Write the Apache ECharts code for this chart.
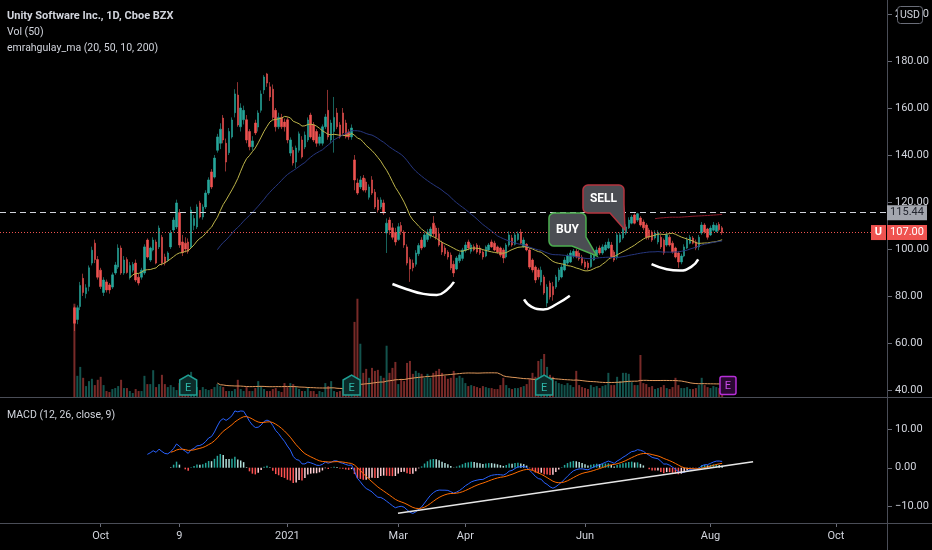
<!DOCTYPE html>
<html><head><meta charset="utf-8">
<script src="https://cdn.jsdelivr.net/npm/echarts@6/dist/echarts.min.js"></script>
<style>html,body{margin:0;padding:0;background:#000;}#c{width:932px;height:550px;}</style>
</head><body><div id="c"></div>
<script>
// ---- DATA ----
// Daily candles from 2020-09-18 to 2021-08-06: [open, close, low, high]
const ohlc = [
[75,68.4,65.1,75.5],[70,75,68,76],[75.5,84.5,74,86],[87.5,81.5,80,89.5],[81,83.5,79,85],[84,92,82,93],[94,99.5,93,101],[102.5,95.5,94,104],[95.5,88,87,97],[91,84,83,92],
[81.5,86.8,80,88],[86,82.6,81.5,87],[84.7,82.6,81,85.5],[83.8,89,83,90],[89.8,93.2,89,94.5],[92.3,100.4,91.5,102],[100.4,89.8,89,101.5],[89.8,95.3,89,97],[95.5,90,89.5,96.5],[88,93,87,94.5],
[91,93.5,90,94.5],[94,86.8,86,95.5],[88,85.5,84.5,89.5],[88,91,87,92],[89.8,100.9,89,102],[103.8,96.6,96,104.5],[95.3,100.4,94.5,101],[99.6,103.8,99,105],[103,94,93.5,104],[100.9,108.9,100,110],
[105,94,93,106],[96.6,94,93,98],[95.3,98.3,94.5,99],[100.9,106.8,100,108],[108.1,112.3,107,113.5],[109.4,119.6,108.5,121],[115.5,101.7,100.5,117],[103,98.5,97,106],[102.5,100,98.5,105],[103,99,98,104.5],
[100.9,116.6,100,118],[110,113,108,114.5],[109.4,117.9,108.5,119],[119.6,113.6,113,120.5],[113.6,117.9,112.5,119],[117.9,123.8,117,125],[123.8,129.4,123,130.5],[132.8,126.4,125.5,134],[130.6,138.7,130,140],[142,147.7,141,149],
[145,151,142.5,153.5],[155.7,146.4,145,157],[145,137,133,147],[141,150,140,151.5],[147.7,154.9,147,156],[158,166,156,168],[165.5,152.8,152,171],[152,160,150,162],[155,159,153,161],[155,146.4,145,157],
[150,143.5,142,151],[143.5,146,142,148],[153.6,149.4,148.5,155],[151.9,157.9,150,159],[159,166,158,167.5],[167.7,173.2,166,174],[174.5,170.6,169,174.94],[169,164.7,163,171],[168,156,155,170],[159,152,150,160],
[152,156,151,158],[156,152,151,157.5],[154,152,150,155.5],[155,146.4,145,156],[140.8,146.4,139.5,147.5],[142,136.6,135.5,143.5],[137,143,134.5,144],[142,149,141,150],[146.4,139.2,138.5,148],[143.4,148.5,142.5,150],
[146.4,154.9,145.5,156],[157,147.7,147,158],[152.8,146.4,145.5,154],[150,145,143.5,151],[145,147.7,144,149],[145,152,144,153],[152,156.2,151,157.5],[159,147.7,146.5,167.7],[146.4,153.6,145,155],[150,156,141,164.7],
[157.9,152,151,160],[152.8,147.7,147,154],[157.9,149.4,148.5,160],[153.6,147.7,147,155],[149.8,147.7,146.5,151],[147.7,151.5,146.5,153],[137.9,129.4,125,140],[128.1,123.8,123,130],[126.4,129.4,125.5,131],[130.2,125.1,124.5,131.5],
[128.5,125.1,124,130],[122,126.4,121,127.5],[129.4,123.8,123,131],[124.2,117.9,117,125.5],[120.9,116.6,115.5,122],[117.9,120.9,117,122],[119.6,115.3,114.5,121],[106.8,111,98.3,113],[112.3,108.1,106,113.5],[109,105,104,111],
[107,103,101.5,109],[104,109.5,103.5,111],[110,107.5,106,111.5],[107.2,101.7,100.5,108],[100.9,94,93,102],[95.5,91.5,86,96.5],[94,92,90.5,95.5],[93.5,98.3,92.5,99.5],[98,101.5,97,102.5],[103.8,100.4,99.5,105],
[101,106,100.5,107],[104,107.2,103,108.5],[105.5,108.5,104.5,109.5],[111,106.5,105.5,114],[108.9,105,104,110],[106.5,101.7,101,109],[102.5,98.7,97.5,103.5],[100.4,98,97,101.5],[98.7,96.6,95.5,99.5],[97.4,91.9,91,98.5],
[93.5,89.8,88.1,95],[91.5,96.2,91,97],[95,97.5,94,98.5],[96,99.6,95,100.5],[99.5,101.7,98.5,103],[103,100.4,99.5,104],[99,101.7,98,102.5],[101,99.6,99,102],[101.7,98.7,98,102.5],[100.4,98.3,97.5,101.5],
[98.7,96.6,95.5,99.5],[97,100.9,96.5,101.5],[99.6,101.7,99,102.5],[103,100.9,100.5,104],[102.5,99.6,99,103.5],[100.9,98.7,98,101.5],[100.4,97.4,96.5,101],[99.6,96.2,94,100.5],[96.6,101.7,96,102.5],[101.7,106,101,107.5],
[104.7,101.7,101,106],[102,106,101.5,107],[104,106.5,103.5,107.5],[107.2,102.5,102,108.5],[101,103.8,100.5,105],[102,99.6,99,102.5],[99.6,92.3,91.5,100.5],[95.3,91.1,90,96],[92.3,86.8,85.5,93],[91.1,88.1,87,92],
[86,91,84.5,92.5],[88.1,81.3,80.5,89],[77,83.8,75.4,85],[85.5,79.6,78.5,86.5],[84,80.5,78,86],[83.8,88.1,83,89],[86.8,91.1,86,92],[88.1,92.3,87.5,93.5],[91.1,95.3,90.5,96.5],[94,97,93,98],
[94.5,98.3,94,99.5],[97,99,96,100],[99,96.6,96,100],[98.3,95.8,95,99.5],[96.5,94,93,97.5],[94.5,92.3,91.5,95.5],[94,92,91,95],[92.5,97.4,92,98.5],[95.3,98.7,95,100],[97.5,99.6,97,101],
[100.4,98.3,97.5,101.5],[98.3,100.9,97.5,102],[99.6,101.7,99,103],[100.4,103,100,104.5],[101.7,96.6,96,103],[98.7,95.3,94.5,99.5],[96.2,106,95.5,107],[103,106,102.5,107],[104.7,108.9,104,110],[106.8,109.4,106,110.5],
[109,112.3,108.5,113.5],[111,113.6,110.5,114.5],[114.5,111,110.5,115.2],[112.3,115,111.5,115.44],[113.2,110.2,109.5,114],[111.5,109,108,112.5],[110.2,105,104,111],[108.1,105,104,109],[107.2,103.8,103,108],[104.7,106.8,104,108],
[103,107,102,108],[105,100.9,100,106],[103.8,98.3,97.5,104.5],[101.7,106,101,107],[105,101.7,101,106],[102.5,98.7,98,103.5],[100.4,96.6,96,101],[98.3,94.5,92,99],[94.5,97,93.5,98],[97,100.9,96.5,102],
[100.4,103.8,100,105],[102.5,105,102,106],[104.7,102.5,102,105.5],[103,100.4,99.5,104],[100.9,105,99.5,106],[106.8,110.2,106,111.5],[110.2,107.2,106.5,111],[108.5,105,104,109],[106,108.9,105.5,110],[108,110.2,107.5,111.5],
[107.5,110,107,111],[110.5,108.2,107.5,111.5],[109,107,106,109.8]
];
// Daily volume, millions of shares
const volume = [
28.2,6.4,9.1,5.8,3.3,4.8,5.5,3.6,5.2,6.1,
3.6,1.8,1.5,2.4,2.7,3.3,5.2,2.7,2.7,1.8,
1.2,2.4,1.8,1.8,6.4,3.9,3.9,8.1,3.0,3.9,
6.7,3.9,3.0,3.6,3.0,2.1,4.2,3.0,2.4,2.4,
7.6,4.2,3.0,2.1,3.0,2.4,2.1,2.4,3.0,3.9,
3.3,3.0,1.8,1.8,1.8,2.4,5.2,2.4,1.8,3.0,
1.8,1.8,2.7,4.8,3.3,2.4,1.8,1.8,2.4,2.7,
1.8,1.5,4.2,3.0,4.2,3.9,3.0,2.4,1.8,1.8,
3.0,1.8,1.8,0.9,1.8,1.5,4.2,3.3,4.8,1.8,
1.5,1.8,2.4,2.1,3.0,3.6,22.7,29.7,16.1,7.3,
8.5,5.8,8.8,7.9,8.2,6.4,5.8,15.5,7.3,8.8,
10.6,3.9,5.5,4.8,10.3,10.9,7.0,7.9,7.3,7.0,
5.8,7.0,5.8,7.3,7.9,8.5,7.3,6.4,5.5,5.8,
7.9,5.8,6.4,5.8,4.2,3.3,3.6,3.3,3.0,2.7,
3.3,3.0,2.7,2.7,2.4,2.4,3.6,5.8,3.6,2.7,
2.4,2.7,2.7,3.0,3.3,3.9,5.5,7.3,6.1,10.9,
11.5,13.0,9.1,6.7,6.1,4.8,4.2,3.9,3.6,4.2,
3.6,3.0,7.9,3.6,3.0,2.7,2.4,3.6,3.0,3.3,
2.7,3.3,3.6,7.3,3.6,3.6,6.1,4.8,7.3,7.3,
7.0,4.5,3.6,3.6,12.7,4.2,3.9,3.0,3.3,2.4,
2.7,3.0,3.6,2.7,2.4,3.0,5.8,3.6,2.7,2.7,
3.0,2.4,2.4,2.7,3.6,5.8,3.6,3.0,2.7,3.3,
3.0,2.7,1.8
];
const firstDate = '2020-09-18';
const holidays = ['2020-09-07','2020-11-26','2020-12-25','2021-01-01','2021-01-18','2021-02-15','2021-04-02','2021-05-31','2021-07-05','2021-09-06'];
const xTickDates  = ['2020-10-01','2020-11-09','2021-01-04','2021-03-01','2021-04-01','2021-06-01','2021-08-02','2021-10-01'];
const xTickLabels = ['Oct','9','2021','Mar','Apr','Jun','Aug','Oct'];
const priceTicks = [40,60,80,100,120,140,160,180,200];
const macdTicks = [-10,0,10];
const highLine = 115.44;
const lastPrice = 107.00;
const earningsIdx = [39,95,161];   // bar index of past earnings flags
const futureEarningsIdx = 224;
// hand-drawn annotations, in [bar index, price]
const cup1 = [[109.0,85.1],[113.9,82.9],[119.6,80.9],[124.2,80.4],[127.6,82.6],[130.1,86.0]];
const cup2 = [[154.1,78.6],[156.7,75.4],[160.7,74.3],[165.3,76.6],[169.8,80.1]];
const cup3 = [[197.8,93.6],[203.0,91.4],[207.5,90.8],[211.5,92.5],[213.8,95.6]];
const macdTrend = [[110.9,-11.8],[232.6,1.54]];
const buyTip = [179.1,97.0];
const sellTip = [188.7,108.1];

// ---- DATES (trading days) ----
function tradingDays(start, n){
  const out=[]; const d=new Date(start+'T00:00:00Z');
  while(out.length<n){ const w=d.getUTCDay(); const s=d.toISOString().slice(0,10);
    if(w!==0&&w!==6&&holidays.indexOf(s)<0) out.push(s); d.setUTCDate(d.getUTCDate()+1);} return out;
}
const dates = tradingDays('2020-08-13', 304);
const PAD = dates.indexOf(firstDate);
const N = dates.length;
const tickMap = {}; xTickDates.forEach((d,i)=>tickMap[d]=xTickLabels[i]);

// ---- INDICATORS derived from closes ----
const closes = ohlc.map(r=>r[1]);
function sma(a,n){return a.map((_,i)=>{if(i<n-1)return null;let s=0;for(let j=i-n+1;j<=i;j++)s+=a[j];return s/n;});}
function ema(a,n){const out=[];let prev=null,sum=0,cnt=0;const al=2/(n+1);
  for(let i=0;i<a.length;i++){const v=a[i];if(v==null){out.push(null);continue;}
    if(prev===null){sum+=v;cnt++;if(cnt===n){prev=sum/n;out.push(prev);}else out.push(null);}
    else{prev=al*v+(1-al)*prev;out.push(prev);}}return out;}
const ma20=sma(closes,20), ma50=sma(closes,50), ma200=sma(closes,200), vma=sma(volume,50);
const e12=ema(closes,12), e26=ema(closes,26);
const macd=closes.map((_,i)=>e26[i]==null?null:e12[i]-e26[i]);
const signal=ema(macd,9);
const hist=macd.map((m,i)=>signal[i]==null?null:m-signal[i]);
const pad=a=>Array(PAD).fill('-').concat(a.map(v=>v==null?'-':v));

const UP='#26a69a', DN='#ef5350';
const volData = Array(PAD).fill('-').concat(volume.map((v,i)=>({value:v,itemStyle:{color:ohlc[i][1]>=ohlc[i][0]?'rgba(38,166,154,0.5)':'rgba(239,83,80,0.5)'}})));
const histData = Array(PAD).fill('-').concat(hist.map((h,i)=>{
  if(h==null) return '-';
  const p=hist[i-1]; const rising = p!=null && p<h;
  const c = h>=0 ? (rising?'#26a69a':'#b2dfdb') : (rising?'#ffcdd2':'#ff5252');
  return {value:h,itemStyle:{color:c}};
}));
const shift=a=>a.map(p=>[p[0]+PAD,p[1]]);

const TXT='#d1d4dc', LINE='#4a4d57', FONT='Roboto';
const chart = echarts.init(document.getElementById('c'));
const tickFn=(i,v)=>tickMap.hasOwnProperty(v);
chart.setOption({
  animation:false, backgroundColor:'#000',
  textStyle:{fontFamily:FONT},
  grid:[{left:0,right:45,top:0,height:397},{left:0,right:45,top:398,height:125}],
  xAxis:[
    {type:'category',gridIndex:0,data:dates,show:false,boundaryGap:true,axisLine:{onZero:false}},
    {type:'category',gridIndex:1,data:dates,boundaryGap:true,position:'bottom',
      axisLine:{show:false,onZero:false},
      axisTick:{show:true,interval:tickFn,alignWithLabel:true,length:4,lineStyle:{color:'#6a6d78'}},
      axisLabel:{interval:tickFn,formatter:v=>tickMap[v]||'',color:TXT,fontSize:11,margin:8}},
    {type:'value',gridIndex:0,min:-0.5,max:N-0.5,show:false,axisLine:{onZero:false}},
    {type:'value',gridIndex:1,min:-0.5,max:N-0.5,show:false,axisLine:{onZero:false}}
  ],
  yAxis:[
    {type:'value',gridIndex:0,position:'right',min:37.02,max:205.96,splitLine:{show:false},
      axisLine:{show:false,onZero:false},axisTick:{show:false},
      axisLabel:{customValues:priceTicks,formatter:v=>v.toFixed(2),color:TXT,fontSize:11,margin:8}},
    {type:'value',gridIndex:0,min:0,max:120,show:false,axisLine:{onZero:false}},
    {type:'value',gridIndex:1,position:'right',min:-14.3,max:18.0,splitLine:{show:false},
      axisLine:{show:false,onZero:false},axisTick:{show:false},
      axisLabel:{customValues:macdTicks,formatter:v=>(v<0?'\u2212'+Math.abs(v).toFixed(2):v.toFixed(2)),color:TXT,fontSize:11,margin:8}}
  ],
  series:[
    {type:'bar',name:'vol',xAxisIndex:0,yAxisIndex:1,data:volData,barWidth:2,z:1},
    {type:'line',name:'volma',xAxisIndex:0,yAxisIndex:1,data:pad(vma),symbol:'none',lineStyle:{color:'#e0995c',width:1},z:2},
    {type:'candlestick',name:'U',xAxisIndex:0,yAxisIndex:0,data:pad(ohlc.map(r=>r)),barWidth:2,z:3,
      itemStyle:{color:UP,color0:DN,borderColor:UP,borderColor0:DN,borderWidth:0.6},
      markLine:{silent:true,symbol:['none','none'],label:{show:false},
        data:[{yAxis:highLine,lineStyle:{type:[6,4],color:'#d1d4dc',width:1}},
              {yAxis:lastPrice,lineStyle:{type:[1,2],color:'#ef5350',width:1}}]}},
    {type:'line',name:'ma20',xAxisIndex:0,yAxisIndex:0,data:pad(ma20),symbol:'none',lineStyle:{color:'#bdb44a',width:1},z:4},
    {type:'line',name:'ma50',xAxisIndex:0,yAxisIndex:0,data:pad(ma50),symbol:'none',lineStyle:{color:'#26367e',width:1},z:4},
    {type:'line',name:'ma200',xAxisIndex:0,yAxisIndex:0,data:pad(ma200),symbol:'none',lineStyle:{color:'#8f1d2c',width:1},z:4},
    {type:'line',xAxisIndex:2,yAxisIndex:0,data:shift(cup1),smooth:true,symbol:'none',lineStyle:{color:'#fff',width:2.5},z:6},
    {type:'line',xAxisIndex:2,yAxisIndex:0,data:shift(cup2),smooth:true,symbol:'none',lineStyle:{color:'#fff',width:2.5},z:6},
    {type:'line',xAxisIndex:2,yAxisIndex:0,data:shift(cup3),smooth:true,symbol:'none',lineStyle:{color:'#fff',width:2.5},z:6},
    {type:'bar',name:'hist',xAxisIndex:1,yAxisIndex:2,data:histData,barWidth:1.5,z:1},
    {type:'line',name:'macd',xAxisIndex:1,yAxisIndex:2,data:pad(macd),symbol:'none',lineStyle:{color:'#2962ff',width:1},z:3},
    {type:'line',name:'signal',xAxisIndex:1,yAxisIndex:2,data:pad(signal),symbol:'none',lineStyle:{color:'#ff6d00',width:1},z:3},
    {type:'line',xAxisIndex:3,yAxisIndex:2,data:shift(macdTrend),symbol:'none',lineStyle:{color:'#e6e6e6',width:1.5},z:4}
  ]
});

// ---- overlay: panes, labels, callouts ----
const P=(k,p)=>chart.convertToPixel({xAxisIndex:2,yAxisIndex:0},[PAD+k,p]);
const PM=(k,v)=>chart.convertToPixel({xAxisIndex:3,yAxisIndex:2},[PAD+k,v]);
const g=[];
g.push({type:'line',shape:{x1:0,y1:397.5,x2:932,y2:397.5},style:{stroke:LINE,lineWidth:1},z:50});
g.push({type:'line',shape:{x1:0,y1:523.5,x2:932,y2:523.5},style:{stroke:LINE,lineWidth:1},z:50});
g.push({type:'line',shape:{x1:887.5,y1:0,x2:887.5,y2:550},style:{stroke:LINE,lineWidth:1},z:50});
priceTicks.forEach(v=>{const y=Math.round(P(0,v)[1])+0.5; g.push({type:'line',shape:{x1:888,y1:y,x2:892,y2:y},style:{stroke:'#6a6d78',lineWidth:1},z:50});});
macdTicks.forEach(v=>{const y=Math.round(PM(0,v)[1])+0.5; g.push({type:'line',shape:{x1:888,y1:y,x2:892,y2:y},style:{stroke:'#6a6d78',lineWidth:1},z:50});});
const txt=(t,x,y,o)=>({type:'text',x:x,y:y,z:90,style:Object.assign({text:t,fill:TXT,fontFamily:FONT,fontSize:11,verticalAlign:'middle'},o||{})});
g.push(txt('Unity Software Inc., 1D, Cboe BZX',7,16,{fontWeight:'bold',fontSize:11}));
g.push(txt('Vol (50)',7,32,{fontSize:10.5}));
g.push(txt('emrahgulay_ma (20, 50, 10, 200)',7,48,{fontSize:10.5}));
g.push(txt('MACD (12, 26, close, 9)',7,415,{fontSize:10.5}));
// USD box
g.push({type:'rect',shape:{x:897.5,y:6.5,width:25,height:17,r:3},style:{fill:'#000',stroke:'#6a6d78',lineWidth:1},z:60});
g.push(txt('USD',910,15.5,{align:'center',fontSize:10.5}));
// price boxes
const yH=P(0,highLine)[1], yL=P(0,lastPrice)[1];
g.push({type:'rect',shape:{x:887,y:yH-7.5,width:40,height:15},style:{fill:'#a3a6ae'},z:61});
g.push(txt(highLine.toFixed(2),907,yH,{align:'center',fill:'#23262f',fontSize:11}));
g.push({type:'rect',shape:{x:887,y:yL-7.5,width:40,height:15},style:{fill:'#ef5350'},z:62});
g.push(txt(lastPrice.toFixed(2),907,yL,{align:'center',fill:'#fff',fontSize:11}));
g.push({type:'rect',shape:{x:871,y:yL-7.5,width:15,height:15},style:{fill:'#ef5350'},z:62});
g.push(txt('U',878.5,yL,{align:'center',fill:'#fff',fontSize:11,fontWeight:'bold'}));
// earnings flags
earningsIdx.forEach(k=>{
  const x=P(k,0)[0];
  g.push({type:'polygon',shape:{points:[[x-8.5,380],[x,375],[x+8.5,380],[x+8.5,395],[x-8.5,395]]},style:{fill:'#0b2b29',stroke:'#1f9e92',lineWidth:1.5},z:55});
  g.push(txt('E',x,388,{align:'center',fill:'#2fb8aa',fontSize:11}));
});
{ const x=P(futureEarningsIdx,0)[0];
  g.push({type:'rect',shape:{x:x-8,y:376.5,width:16,height:18,r:2},style:{fill:'#2a0832',stroke:'#b62fd8',lineWidth:1.5},z:55});
  g.push(txt('E',x,386,{align:'center',fill:'#c84be8',fontSize:11}));
}
// callouts (rounded box with a tail to the tip)
function corner(cx,cy,r,a0,a1){const pts=[];for(let s=0;s<=4;s++){const a=a0+(a1-a0)*s/4;pts.push([cx+r*Math.cos(a),cy+r*Math.sin(a)]);}return pts;}
function callout(tip,dx,dy,w,h,stroke,label){
  const [tx,ty]=P(tip[0],tip[1]); const bx=tx+dx, by=ty+dy, r=5, PI=Math.PI;
  let pts=[];
  pts=pts.concat(corner(bx+r,by+r,r,PI,1.5*PI));
  pts=pts.concat(corner(bx+w-r,by+r,r,1.5*PI,2*PI));
  pts.push([bx+w,by+h-9]); pts.push([tx,ty]); pts.push([bx+w-14,by+h]);
  pts=pts.concat(corner(bx+r,by+h-r,r,0.5*PI,PI));
  g.push({type:'polygon',shape:{points:pts},style:{fill:'#4b4d53',stroke:stroke,lineWidth:1.5},z:70});
  g.push(txt(label,bx+w/2,by+h/2,{align:'center',fill:'#fff',fontSize:12,fontWeight:'bold'}));
}
callout(buyTip,-48,-43,37,33,'#4caf50','BUY');
callout(sellTip,-42,-45,41,28,'#b5343f','SELL');
chart.setOption({graphic:g});
</script></body></html>
